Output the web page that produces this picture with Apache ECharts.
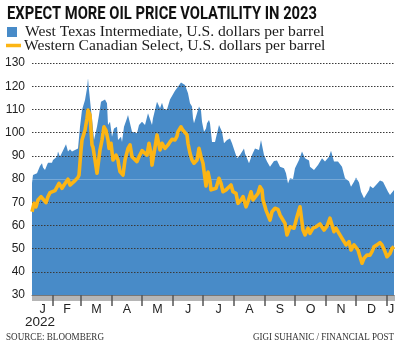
<!DOCTYPE html>
<html>
<head>
<meta charset="utf-8">
<script src="https://cdn.jsdelivr.net/npm/echarts/dist/echarts.min.js"></script>
<style>html,body{margin:0;padding:0;background:#fff}#c{width:400px;height:348px}</style>
</head>
<body>
<div id="c"></div>
<script>
// ---- Data (x = days since 2022-01-01) ----
const titleText = 'EXPECT MORE OIL PRICE VOLATILITY IN 2023';
const seriesNames = ['West Texas Intermediate, U.S. dollars per barrel', 'Western Canadian Select, U.S. dollars per barrel'];
const wtiDay = [10,11,15,18,20,21,23,25,26,30,31,35,36,38,40,44,46,48,50,53,55,56,58,60,61,63,65,66,67,69,70,72,74,75,77,79,81,83,85,86,88,90,92,95,96,98,99,100,102,105,106,108,110,112,115,117,120,121,123,126,128,130,131,133,135,136,138,140,142,145,148,150,153,156,159,161,163,165,166,168,170,171,172,175,177,179,180,182,184,185,187,188,190,193,197,198,200,202,205,208,210,215,218,222,223,227,230,233,237,239,242,245,248,252,255,258,262,264,266,268,271,273,277,280,283,287,288,292,296,300,303,307,309,312,316,320,323,327,329,332,334,337,339,342,343,347,348,351,354,358,361,363,366,368,372];
const wtiPrice = [78.3,81.7,82.5,85.6,86.8,85,83.9,86,87,87,88.2,89.6,91.8,89.6,89.3,95,91.8,92.8,91.8,92.5,92.2,93.2,102.5,109.7,109,114,119,123.4,118.4,109.7,106,96.8,96,102.5,107.6,113.3,112.6,114.3,112.6,103.3,104.7,98.2,101.8,102.5,96.8,96,98.2,96,102.5,106.2,107.6,104,100.4,101,99.7,103.3,104.7,104,103.3,108.3,109,103.3,106.2,109.7,113.3,112.9,110.5,112.9,110,110,114.3,114.8,118,119.8,121.6,121,120.5,119.8,117,112.6,111.2,106.2,104,108.3,111.2,109.5,104.7,100.4,101.8,104,105.4,104,96,96,103.3,104,100.4,95.4,96.8,97.5,95.4,88.9,90.3,93.2,91,86.8,90.3,93.2,92.5,96.8,90.3,87.5,85.3,87.8,88,85.3,84.6,82.5,78.1,80.3,80,84.6,88.2,91.8,88.9,88,85.3,83.9,86,88.9,87.5,89.6,92.2,87.5,87.5,85.3,80.3,79,76.7,78.8,80.7,78.5,74.5,71.7,71,75.3,77,76,77.4,79.3,78.8,79.6,74.5,73.1,75.3];
const wcsDay = [10,12,14,16,19,21,24,26,28,30,33,35,37,40,42,46,48,50,53,56,57,59,60,61,63,65,66,68,70,71,73,75,76,78,80,82,84,86,87,89,91,94,96,97,98,101,103,106,108,110,112,115,117,120,122,125,127,129,130,132,135,136,138,140,143,146,148,150,153,155,156,159,161,163,165,166,168,170,172,175,177,179,181,184,186,188,189,191,194,197,199,201,204,206,209,211,214,216,219,221,224,226,229,231,233,236,238,240,241,244,246,248,250,253,256,258,260,263,265,266,268,270,272,275,277,278,281,283,286,288,291,294,298,300,302,305,308,310,312,314,317,319,322,324,327,329,332,334,336,338,340,342,345,348,350,352,355,358,360,362,363,365,368,370,372];
const wcsPrice = [65.9,69.5,68,71,72.4,71.7,69.8,72.4,74.1,74.5,75,75.3,78.1,76,77.4,79.9,77.4,77,79.3,80.7,81.7,92.5,96.8,96,101,106.2,109.7,107.6,94.7,93.7,88.2,82.5,82.2,92.5,96.8,102.5,101,96.8,93.2,95.4,88.2,90.3,88.2,85.3,83.2,81.7,88.2,93.2,94.7,89.6,90.3,87.5,89.6,92.2,92.2,90.3,95.4,91.1,86,91.1,99,96.8,92.5,95.4,93.2,94.7,96,97.1,96.8,98.5,100.4,102.5,101,100.4,99,95.4,91.1,88.2,86.8,88.2,93.2,89.6,86.8,77,83,79,75.3,74.5,76,80.3,78.1,74.5,75.3,76,77.4,74.5,73.8,69.5,71,72.4,68,70.2,74.5,71,70.2,73.8,76.7,75.3,71,66.6,65.9,62.3,65.9,67.4,66.9,64.5,63.7,60.9,55.9,55.2,59.4,60.2,58.8,63.7,66.6,68,58,55.9,58.8,56.6,58.8,59.4,60.6,60.2,58,59.7,63.1,62.3,57.3,58.8,56.6,56.6,53,51.6,53,49.4,51.6,52.3,49.4,46.5,43.7,45.8,47.2,47.2,48.7,50.8,51.6,52.6,51.6,52.3,48.7,46.5,47.9,50.1,50.8];
const monthStartDays = [31,59,90,120,151,181,212,243,273,304,334,365];
const monthLabelDays = [20.5,45,74.5,105,135.5,166,196.5,227.5,258,288.5,319,349.5,369];
const monthLabels = ['J','F','M','A','M','J','J','A','S','O','N','D','J'];
const yearLabel = '2022';
const sourceText = 'SOURCE: BLOOMBERG';
const creditText = 'GIGI SUHANIC / FINANCIAL POST';
const xMin = 10, xMax = 372;

const dayTicks = [];
for (let d = xMin; d <= xMax; d++) dayTicks.push(d);

const ctx = document.createElement('canvas').getContext('2d');
function fitScale(text, font, w) { ctx.font = font; return w / ctx.measureText(text).width; }

const titleFont = 'bold 18px Roboto';
const footFont = '10px "Liberation Serif"';

const chart = echarts.init(document.getElementById('c'), null, {renderer: 'canvas'});
const labelMap = {};
monthLabelDays.forEach((d, i) => labelMap[d] = monthLabels[i]);

chart.setOption({
  animation: false,
  backgroundColor: '#fff',
  grid: {left: 32, right: 6, top: 63, bottom: 53, containLabel: false},
  legend: [
    {data: [{name: seriesNames[0], icon: 'rect'}], left: 7, top: 24, padding: 0, itemWidth: 10, itemHeight: 10, itemGap: 0,
     textStyle: {fontFamily: '"Liberation Serif", serif', fontSize: 15.6, color: '#1a1a1a', padding: [0,0,0,3]}},
    {data: [{name: seriesNames[1], icon: 'rect'}], left: 6, top: 37.5, padding: 0, itemWidth: 15, itemHeight: 3.5, itemGap: 0,
     textStyle: {fontFamily: '"Liberation Serif", serif', fontSize: 15.6, color: '#1a1a1a', padding: [0,0,0,-2]}}
  ],
  xAxis: [
    {type: 'value', min: xMin, max: xMax, position: 'bottom',
     axisLine: {show: true, lineStyle: {color: '#777', width: 1}},
     axisTick: {show: true, customValues: monthStartDays, length: 11, lineStyle: {color: '#555', width: 1.5}},
     axisLabel: {show: true, customValues: monthLabelDays, margin: 8, color: '#222', fontFamily: '"Liberation Sans", Arial, sans-serif', fontSize: 12.5,
                 formatter: v => labelMap[v] || ''},
     splitLine: {show: false}, z: 4},
    {type: 'value', min: xMin, max: xMax, position: 'bottom',
     axisLine: {show: false},
     axisTick: {show: true, customValues: dayTicks, length: 6, lineStyle: {color: '#b5b5b5', width: 1}},
     axisLabel: {show: false}, splitLine: {show: false}, z: 3}
  ],
  yAxis: {
    type: 'value', min: 30, max: 130, interval: 10, z: 3,
    axisLine: {show: false}, axisTick: {show: false},
    axisLabel: {margin: 7, color: '#222', fontFamily: '"Liberation Sans", Arial, sans-serif', fontSize: 12},
    splitLine: {show: true, lineStyle: {type: [1.5, 1.5], width: 1,
      color: ['transparent','#3a3a3a','#3a3a3a','#3a3a3a','#3a3a3a','transparent','#3a3a3a','#3a3a3a','#3a3a3a','#3a3a3a','#3a3a3a']}}
  },
  series: [
    {name: seriesNames[0], type: 'line', data: wtiDay.map((d, i) => [d, wtiPrice[i]]), showSymbol: false, z: 1,
     lineStyle: {width: 0}, itemStyle: {color: '#488bc8'},
     areaStyle: {color: '#488bc8', opacity: 1, origin: 'start'},
     markLine: {silent: true, symbol: 'none', label: {show: false},
       lineStyle: {color: 'rgba(255,255,255,0.25)', type: 'solid', width: 1}, data: [{yAxis: 80}]}},
    {name: seriesNames[1], type: 'line', data: wcsDay.map((d, i) => [d, wcsPrice[i]]), showSymbol: false, z: 5,
     lineStyle: {width: 3.6, color: '#fcb514', join: 'round'}, itemStyle: {color: '#fcb514'}}
  ],
  graphic: [
    {type: 'text', x: 7, y: 14, scaleX: fitScale(titleText, titleFont, 310),
     style: {text: titleText, font: titleFont, fill: '#111', textAlign: 'left', textVerticalAlign: 'middle'}},
    {type: 'text', x: 40, y: 322,
     style: {text: yearLabel, font: '13.5px "Liberation Sans", Arial, sans-serif', fill: '#222', textAlign: 'center', textVerticalAlign: 'middle'}},
    {type: 'text', x: 6, y: 337.5, scaleX: fitScale(sourceText, footFont, 98),
     style: {text: sourceText, font: footFont, fill: '#333', textAlign: 'left', textVerticalAlign: 'middle'}},
    {type: 'text', x: 394, y: 337.5, scaleX: fitScale(creditText, footFont, 141),
     style: {text: creditText, font: footFont, fill: '#333', textAlign: 'right', textVerticalAlign: 'middle'}}
  ]
});
</script>
</body>
</html>
